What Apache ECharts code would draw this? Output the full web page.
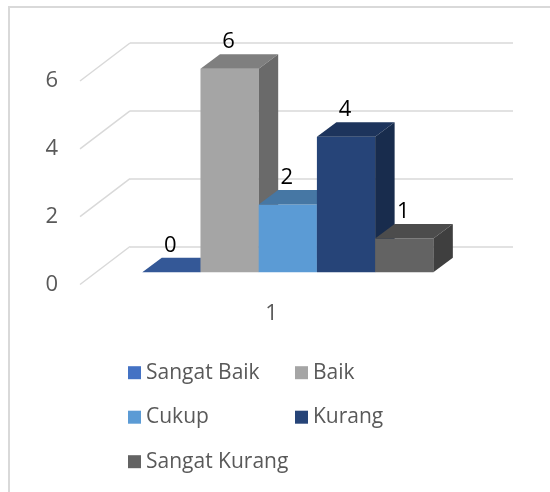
<!DOCTYPE html>
<html>
<head>
<meta charset="utf-8">
<script src="https://cdn.jsdelivr.net/npm/echarts@6/dist/echarts.min.js"></script>
<style>
  html, body { margin: 0; padding: 0; background: #fff; }
  #chart { width: 550px; height: 492px; }
</style>
</head>
<body>
<div id="chart"></div>
<script>
const categories = ['1'];
const seriesNames = ['Sangat Baik', 'Baik', 'Cukup', 'Kurang', 'Sangat Kurang'];
const seriesValues = [0, 6, 2, 4, 1];
const yTicks = [0, 2, 4, 6];
const colors = ['#4472C4', '#A5A5A5', '#5B9BD5', '#264478', '#636363'];

// 3d look
const DX = 19.5, DY = -14.5;   // bar depth
const WX = 50, WY = -38;       // side wall depth
const BAR_RATIO = 0.152;

function shade(hex, f) {
  const n = parseInt(hex.slice(1), 16);
  const r = Math.round(((n >> 16) & 255) * f);
  const g = Math.round(((n >> 8) & 255) * f);
  const b = Math.round((n & 255) * f);
  return 'rgb(' + r + ',' + g + ',' + b + ')';
}

function barSeries(i) {
  return {
    name: seriesNames[i],
    type: 'custom',
    xAxisIndex: 1,
    yAxisIndex: 1,
    itemStyle: { color: colors[i] },
    data: [[0, seriesValues[i]]],
    renderItem: function (params, api) {
      const base = api.coord([api.value(0), 0]);
      const top = api.coord([api.value(0), api.value(1)]);
      const w = api.size([1, 0])[0] * BAR_RATIO;
      const x0 = base[0] - 2.5 * w + i * w;
      const yb = base[1], yt = top[1];
      const c = colors[i];
      return {
        type: 'group',
        children: [
          {
            type: 'rect',
            shape: { x: x0, y: yt, width: w, height: yb - yt },
            style: { fill: c }
          },
          {
            type: 'polygon',
            shape: { points: [[x0, yt], [x0 + w, yt], [x0 + w + DX, yt + DY], [x0 + DX, yt + DY]] },
            style: { fill: shade(c, 0.77) }
          },
          {
            type: 'polygon',
            shape: { points: [[x0 + w, yt], [x0 + w + DX, yt + DY], [x0 + w + DX, yb + DY], [x0 + w, yb]] },
            style: { fill: shade(c, 0.64) }
          },
          {
            type: 'text',
            z2: 100,
            style: {
              x: x0 + w / 2 - 1,
              y: yt + DY - 12.5,
              text: String(api.value(1)),
              align: 'center',
              verticalAlign: 'middle',
              fontSize: 22,
              fontFamily: 'Open Sans',
              fill: '#000'
            }
          }
        ]
      };
    }
  };
}

let chart = echarts.init(document.getElementById('chart'));
chart.setOption({
  animation: false,
  textStyle: { fontFamily: 'Open Sans' },
  graphic: [{
    type: 'rect',
    shape: { x: 9, y: 7, width: 700, height: 700 },
    style: { fill: 'none', stroke: '#d9d9d9', lineWidth: 2 },
    silent: true
  }],
  grid: [
    { left: 80, top: 81, width: 383, height: 203.5 },     // front plane
    { left: 96.3, top: 68.8, width: 383, height: 203.5 }, // bar plane
    { left: 130, top: 43.2, width: 383, height: 203.5 }   // back wall
  ],
  xAxis: [
    {
      gridIndex: 0,
      type: 'category',
      data: categories,
      axisLine: { show: false },
      axisTick: { show: false },
      axisLabel: { fontSize: 22, color: '#595959', margin: 18 }
    },
    { gridIndex: 1, type: 'category', data: categories, show: false },
    { gridIndex: 2, type: 'category', data: categories, show: false }
  ],
  yAxis: [
    {
      gridIndex: 0,
      type: 'value',
      min: 0, max: 6, interval: 2,
      axisLine: { show: false },
      axisTick: { show: false },
      splitLine: { show: false },
      axisLabel: { fontSize: 22, color: '#595959', margin: 22 }
    },
    { gridIndex: 1, type: 'value', min: 0, max: 6, interval: 2, show: false },
    {
      gridIndex: 2,
      type: 'value',
      min: 0, max: 6, interval: 2,
      axisLine: { show: false },
      axisTick: { show: false },
      axisLabel: { show: false },
      splitLine: { lineStyle: { color: '#d9d9d9', width: 1.5 } }
    }
  ],
  legend: [
    {
      orient: 'vertical',
      left: 128, top: 362.2,
      padding: 0,
      itemWidth: 13, itemHeight: 13, itemGap: 23.5,
      icon: 'rect',
      selectedMode: false,
      textStyle: { fontSize: 21, lineHeight: 21, color: '#595959' },
      data: [seriesNames[0], seriesNames[2], seriesNames[4]]
    },
    {
      orient: 'vertical',
      left: 295, top: 362.2,
      padding: 0,
      itemWidth: 13, itemHeight: 13, itemGap: 23.5,
      icon: 'rect',
      selectedMode: false,
      textStyle: { fontSize: 21, lineHeight: 21, color: '#595959' },
      data: [seriesNames[1], seriesNames[3]]
    }
  ],
  series: [
    {
      type: 'custom',
      silent: true,
      xAxisIndex: 0,
      yAxisIndex: 0,
      data: yTicks.map(v => [0, v]),
      renderItem: function (params, api) {
        const p = api.coord([0, api.value(1)]);
        const xl = p[0] - api.size([1, 0])[0] / 2;
        return {
          type: 'line',
          shape: { x1: xl, y1: p[1], x2: xl + WX, y2: p[1] + WY },
          style: { stroke: '#d9d9d9', lineWidth: 1.5 }
        };
      }
    }
  ].concat(seriesNames.map((n, i) => barSeries(i)))
});
</script>
</body>
</html>
